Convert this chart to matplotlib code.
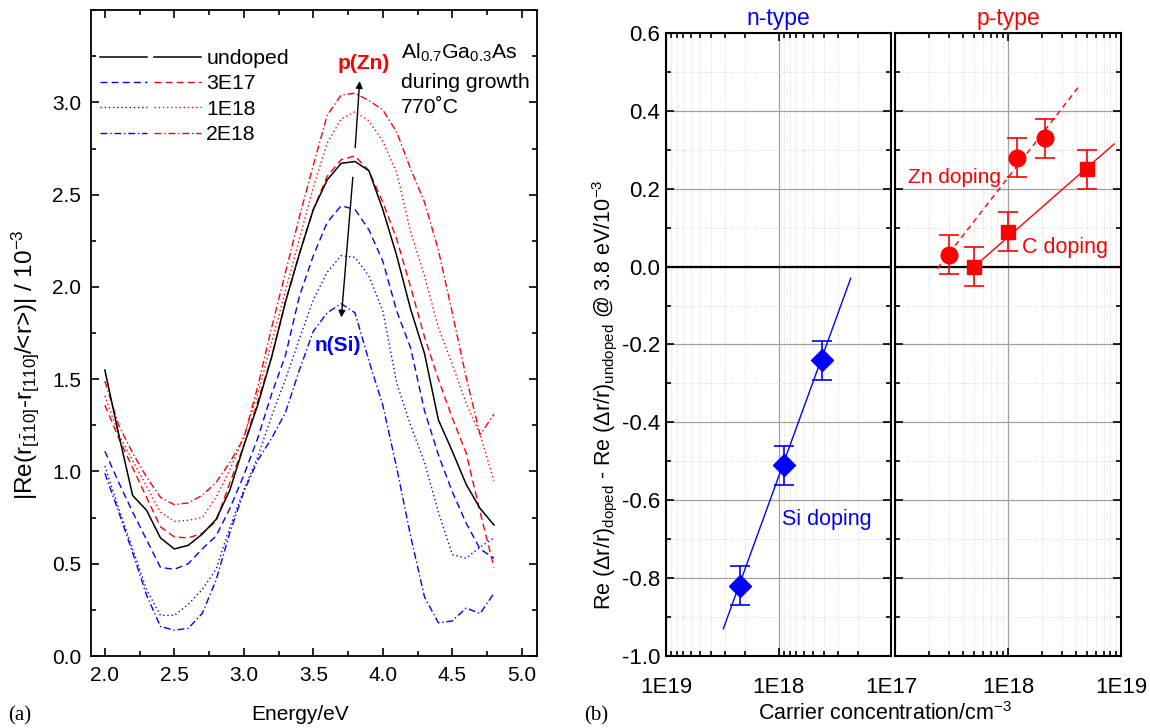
import numpy as np
import matplotlib
matplotlib.use('Agg')
import matplotlib.pyplot as plt
from matplotlib.lines import Line2D
from matplotlib.legend_handler import HandlerTuple
from matplotlib.ticker import MultipleLocator, LogLocator, FixedLocator, NullFormatter, FormatStrFormatter

plt.rcParams['font.family'] = ['Liberation Sans', 'DejaVu Sans']
plt.rcParams['mathtext.fontset'] = 'custom'
plt.rcParams['mathtext.rm'] = 'Liberation Sans'
plt.rcParams['mathtext.it'] = 'Liberation Sans:italic'
plt.rcParams['mathtext.bf'] = 'Liberation Sans:bold'
plt.rcParams['axes.unicode_minus'] = False

# ---- data, panel (a): anisotropy spectra ----
energy = [2.0, 2.1, 2.2, 2.3, 2.4, 2.5, 2.6, 2.7, 2.8, 2.9, 3.0, 3.1, 3.2, 3.3, 3.4,
          3.5, 3.6, 3.7, 3.8, 3.9, 4.0, 4.1, 4.2, 4.3, 4.4, 4.5, 4.6, 4.7, 4.8]
undoped = [1.55, 1.20, 0.87, 0.79, 0.64, 0.58, 0.60, 0.66, 0.74, 0.90, 1.14, 1.36, 1.62, 1.92, 2.18,
           2.42, 2.58, 2.67, 2.68, 2.63, 2.42, 2.17, 1.88, 1.64, 1.28, 1.11, 0.93, 0.80, 0.71]
p_3e17 = [1.36, 1.18, 1.02, 0.86, 0.70, 0.645, 0.64, 0.665, 0.73, 0.94, 1.14, 1.38, 1.62, 1.92, 2.18,
          2.42, 2.60, 2.69, 2.71, 2.63, 2.46, 2.26, 2.00, 1.73, 1.50, 1.29, 1.10, 0.78, 0.48]
p_1e18 = [1.41, 1.20, 1.06, 0.92, 0.78, 0.73, 0.735, 0.75, 0.86, 1.01, 1.19, 1.42, 1.70, 1.98, 2.26,
          2.54, 2.78, 2.91, 2.95, 2.90, 2.79, 2.62, 2.30, 2.06, 1.78, 1.58, 1.37, 1.20, 0.95]
p_2e18 = [1.49, 1.25, 1.10, 0.97, 0.86, 0.82, 0.83, 0.87, 0.94, 1.05, 1.18, 1.46, 1.78, 2.08, 2.38,
          2.66, 2.93, 3.04, 3.05, 3.01, 2.96, 2.84, 2.64, 2.46, 2.20, 1.86, 1.51, 1.20, 1.31]
n_3e17 = [1.11, 0.94, 0.78, 0.63, 0.48, 0.47, 0.50, 0.58, 0.65, 0.80, 0.98, 1.18, 1.42, 1.63, 1.95,
          2.17, 2.35, 2.44, 2.42, 2.31, 2.14, 1.87, 1.67, 1.33, 1.09, 0.89, 0.72, 0.58, 0.53]
n_1e18 = [1.03, 0.80, 0.58, 0.36, 0.22, 0.22, 0.28, 0.36, 0.47, 0.70, 0.90, 1.08, 1.30, 1.50, 1.72,
          1.93, 2.08, 2.17, 2.16, 2.06, 1.87, 1.48, 1.25, 1.05, 0.78, 0.55, 0.53, 0.59, 0.64]
n_2e18 = [0.99, 0.78, 0.56, 0.33, 0.16, 0.14, 0.15, 0.23, 0.41, 0.67, 0.89, 1.06, 1.18, 1.32, 1.55,
          1.76, 1.86, 1.91, 1.86, 1.60, 1.36, 1.02, 0.65, 0.32, 0.18, 0.19, 0.26, 0.23, 0.34]
legend_labels = ['undoped', '3E17', '1E18', '2E18']

# ---- data, panel (b): shift at 3.8 eV vs carrier concentration ----
si_conc = [2.2e18, 9.0e17, 4.1e17]
si_val = [-0.82, -0.51, -0.24]
si_err = [0.05, 0.05, 0.05]
zn_conc = [3.0e17, 1.2e18, 2.1e18]
zn_val = [0.03, 0.28, 0.33]
zn_err = [0.05, 0.05, 0.05]
c_conc = [5e17, 1e18, 5e18]
c_val = [0.0, 0.09, 0.25]
c_err = [0.05, 0.05, 0.05]
si_fit_conc = [3.1e18, 2.3e17]
si_fit_val = [-0.93, -0.03]
zn_fit_conc = [2.35e17, 4.3e18]
zn_fit_val = [-0.005, 0.465]
c_fit_conc = [5e17, 8.7e18]
c_fit_val = [0.0, 0.315]

fig = plt.figure(figsize=(11.5, 7.28), dpi=100)

# ================= panel (a) =================
ax = fig.add_axes([0.0791, 0.0989, 0.3879, 0.8871])
lw = 1.0
dash = (0, (5, 3))
dot = (0, (1, 2))
dashdot = (0, (5, 2, 1, 2))
ax.plot(energy, p_2e18, color='red', lw=lw, ls=dashdot)
ax.plot(energy, p_1e18, color='red', lw=lw, ls=dot)
ax.plot(energy, p_3e17, color='red', lw=lw, ls=dash)
ax.plot(energy, undoped, color='black', lw=1.1, ls='-')
ax.plot(energy, n_3e17, color='blue', lw=lw, ls=dash)
ax.plot(energy, n_1e18, color='blue', lw=lw, ls=dot)
ax.plot(energy, n_2e18, color='blue', lw=lw, ls=dashdot)

ax.set_xlim(1.9, 5.11)
ax.set_ylim(0, 3.5)
ax.xaxis.set_major_locator(MultipleLocator(0.5))
ax.xaxis.set_minor_locator(MultipleLocator(0.25))
ax.yaxis.set_major_locator(FixedLocator([0, 0.5, 1.0, 1.5, 2.0, 2.5, 3.0]))
ax.yaxis.set_minor_locator(MultipleLocator(0.25))
ax.xaxis.set_major_formatter(FormatStrFormatter('%.1f'))
ax.yaxis.set_major_formatter(FormatStrFormatter('%.1f'))
ax.tick_params(which='both', direction='in', top=True, right=True, labelsize=15, width=1.2)
ax.tick_params(which='major', length=6, pad=7)
ax.tick_params(which='minor', length=3.5)
for s in ax.spines.values():
    s.set_linewidth(1.3)
fig.text(0.0217, 0.4986, '|Re(r$_{[\\bar{1}10]}$-r$_{[110]}$/<r>)| / 10$^{-3}$', fontsize=17.5,
         rotation=90, ha='center', va='center')

# legend with a blue and a red handle per row
handles = [
    (Line2D([], [], color='black', lw=1.1), Line2D([], [], color='black', lw=1.1)),
    (Line2D([], [], color='blue', lw=lw, ls=dash), Line2D([], [], color='red', lw=lw, ls=dash)),
    (Line2D([], [], color='blue', lw=lw, ls=dot), Line2D([], [], color='red', lw=lw, ls=dot)),
    (Line2D([], [], color='blue', lw=lw, ls=dashdot), Line2D([], [], color='red', lw=lw, ls=dashdot)),
]
ax.legend(handles, legend_labels, handler_map={tuple: HandlerTuple(ndivide=None, pad=0.3)},
          loc='upper left', frameon=False, fontsize=15.3, handlelength=4.75,
          handletextpad=0.25, labelspacing=0.3, borderaxespad=0, borderpad=0,
          bbox_to_anchor=(0.02, 0.94))

ax.text(4.13, 3.237, 'Al$_{0.7}$Ga$_{0.3}$As', fontsize=15.3, va='baseline', ha='left')
ax.text(4.13, 3.079, 'during growth', fontsize=15.3, va='baseline', ha='left')
ax.text(4.13, 2.943, '770˚C', fontsize=15.3, va='baseline', ha='left')
ax.annotate('', xy=(3.835, 3.13), xytext=(3.80, 2.74),
            arrowprops=dict(arrowstyle='-|>', color='black', lw=1.0, mutation_scale=10))
ax.annotate('', xy=(3.70, 1.82), xytext=(3.786, 2.61),
            arrowprops=dict(arrowstyle='-|>', color='black', lw=1.0, mutation_scale=10))
ax.text(3.86, 3.21, 'p(Zn)', color='red', fontsize=15, fontweight='bold', ha='center', va='center')
ax.text(3.68, 1.685, 'n(Si)', color='blue', fontsize=15, fontweight='bold', ha='center', va='center')

# ================= panel (b) =================
axn = fig.add_axes([0.5791, 0.0989, 0.1961, 0.8558])
axp = fig.add_axes([0.7786, 0.0989, 0.1962, 0.8558])

for a in (axn, axp):
    a.set_xscale('log')
    a.set_ylim(-1.0, 0.6)
    a.yaxis.set_major_locator(MultipleLocator(0.2))
    a.yaxis.set_minor_locator(MultipleLocator(0.1))
    a.xaxis.set_major_locator(LogLocator(base=10, numticks=10))
    a.xaxis.set_minor_locator(LogLocator(base=10, subs=np.arange(2, 10), numticks=20))
    a.xaxis.set_minor_formatter(NullFormatter())
    a.grid(which='major', color='#a0a0a0', lw=0.9)
    a.grid(which='minor', color='#d0d0d0', lw=0.6, ls=(0, (1, 1.5)))
    a.axhline(0, color='black', lw=1.6, zorder=2)
    a.tick_params(which='both', direction='in', top=True, right=True, labelsize=16, width=1.2)
    a.tick_params(which='major', length=6)
    a.tick_params(which='minor', length=3.5)
    a.tick_params(axis='x', which='major', pad=15)
    a.tick_params(axis='y', which='major', pad=4)
    for s in a.spines.values():
        s.set_linewidth(1.5)
    a.set_axisbelow(True)

axn.set_xlim(1e19, 1e17)
axn.set_xticks([1e19, 1e18, 1e17])
axn.set_xticklabels(['1E19', '1E18', '1E17'])
axp.set_xlim(1e17, 1e19)
axp.set_xticks([1e17, 1e18, 1e19])
axp.set_xticklabels(['', '1E18', '1E19'])
axn.yaxis.set_major_formatter(FormatStrFormatter('%.1f'))
axp.tick_params(labelleft=False)

axn.set_title('n-type', color='blue', fontsize=16.5, pad=6)
axp.set_title('p-type', color='red', fontsize=16.5, pad=6)

# n-type: Si
axn.plot(si_fit_conc, si_fit_val, color='blue', lw=1.0, zorder=3)
axn.errorbar(si_conc, si_val, yerr=si_err, fmt='D', color='blue', ms=11, capsize=7,
             elinewidth=1.2, capthick=1.2, zorder=4)
axn.text(9.4e17, -0.65, 'Si doping', color='blue', fontsize=15.5, ha='left', va='center')

# p-type: Zn and C
axp.plot(zn_fit_conc, zn_fit_val, color='red', lw=1.0, ls=(0, (4, 3)), zorder=3)
axp.plot(c_fit_conc, c_fit_val, color='red', lw=1.0, zorder=3)
axp.errorbar(zn_conc, zn_val, yerr=zn_err, fmt='o', color='red', ms=12, capsize=7,
             elinewidth=1.2, capthick=1.2, zorder=4)
axp.errorbar(c_conc, c_val, yerr=c_err, fmt='s', color='red', ms=9.5, capsize=7,
             elinewidth=1.2, capthick=1.2, zorder=4)
axp.text(1.29e17, 0.23, 'Zn doping', color='red', fontsize=15, ha='left', va='center')
axp.text(1.32e18, 0.05, 'C doping', color='red', fontsize=15.5, ha='left', va='center')

fig.text(0.5255, 0.4574,
         'Re (Δr/r)$_{\\mathrm{doped}}$ - Re (Δr/r)$_{\\mathrm{undoped}}$ @ 3.8 eV/10$^{-3}$',
         fontsize=15.5, rotation=90, ha='center', va='center')

# bottom labels
fig.text(0.261, 0.011, 'Energy/eV', fontsize=15, ha='center', va='baseline')
fig.text(0.770, 0.011, 'Carrier concentration/cm$^{-3}$', fontsize=15.5, ha='center', va='baseline')
fig.text(0.007, 0.011, '(a)', fontsize=15, ha='left', va='baseline', family='Liberation Serif')
fig.text(0.508, 0.011, '(b)', fontsize=15, ha='left', va='baseline', family='Liberation Serif')

fig.savefig('out.png', dpi=100)
